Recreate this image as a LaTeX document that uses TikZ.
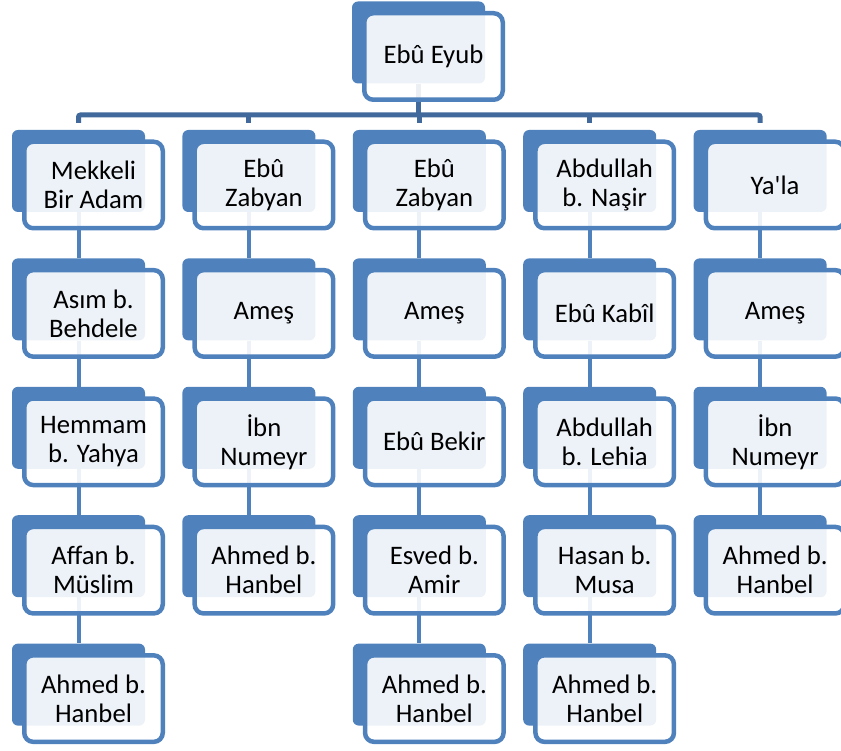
\documentclass[tikz,border=0pt]{standalone}
\usepackage{fontspec}
\setmainfont{Carlito}
\usetikzlibrary{positioning}
\pgfdeclarelayer{background}
\pgfsetlayers{background,main}
\definecolor{ofisMavi}{HTML}{4F81BD}
\definecolor{koyuMavi}{HTML}{41699B}
\tikzset{arka/.style={fill=ofisMavi,rounded corners=6pt,minimum width=133pt,minimum height=82pt,inner sep=0pt},
         on/.style={draw=ofisMavi,line width=4.5pt,fill=white,fill opacity=0.9,text opacity=1,rounded corners=9pt,
                    minimum width=138.5pt,minimum height=86.5pt,inner sep=2pt,align=center,
                    font=\fontsize{26.7pt}{29pt}\selectfont},
         hat/.style={ofisMavi,line width=4pt},
         kol/.style={koyuMavi,line width=5pt,rounded corners=2pt}
}
% back box + front box with the name
\newcommand{\kisi}[3]{%
  \node[arka,#2] (#1) {};
  \node[on] (#1on) at ([shift={(15pt,-14pt)}]#1.center) {#3};}

\begin{document}
\begin{tikzpicture}[x=1pt,y=-1pt]
\useasboundingbox (0,0) rectangle (841,751);

\kisi{eyub}{at={(418.5,42.5)}}{Ebû Eyub}
\coordinate[below=13pt of eyubon.south] (bar);

% first row
\kisi{a1}{at={(78.5,171)}}{Mekkeli\\Bir Adam}
\kisi{b1}{right=37pt of a1}{Ebû\\Zabyan}
\kisi{c1}{right=37pt of b1}{Ebû\\Zabyan}
\kisi{d1}{right=37pt of c1}{Abdullah\\b. Naşir}
\kisi{e1}{right=37pt of d1}{Ya\textquotesingle la}

% column a
\kisi{a2}{below=46pt of a1}{Asım b.\\Behdele}
\kisi{a3}{below=46pt of a2}{Hemmam\\b. Yahya}
\kisi{a4}{below=46pt of a3}{Affan b.\\Müslim}
\kisi{a5}{below=46pt of a4}{Ahmed b.\\Hanbel}

% column b
\kisi{b2}{below=46pt of b1}{Ameş}
\kisi{b3}{below=46pt of b2}{İbn\\Numeyr}
\kisi{b4}{below=46pt of b3}{Ahmed b.\\Hanbel}

% column c
\kisi{c2}{below=46pt of c1}{Ameş}
\kisi{c3}{below=46pt of c2}{Ebû Bekir}
\kisi{c4}{below=46pt of c3}{Esved b.\\Amir}
\kisi{c5}{below=46pt of c4}{Ahmed b.\\Hanbel}

% column d
\kisi{d2}{below=46pt of d1}{Ebû Kabîl}
\kisi{d3}{below=46pt of d2}{Abdullah\\b. Lehia}
\kisi{d4}{below=46pt of d3}{Hasan b.\\Musa}
\kisi{d5}{below=46pt of d4}{Ahmed b.\\Hanbel}

% column e
\kisi{e2}{below=46pt of e1}{Ameş}
\kisi{e3}{below=46pt of e2}{İbn\\Numeyr}
\kisi{e4}{below=46pt of e3}{Ahmed b.\\Hanbel}

\begin{pgfonlayer}{background}
\draw[kol] (eyub) -- (eyub|-bar);
\draw[kol] ([yshift=7pt]a1.north) |- (bar) -| ([yshift=7pt]e1.north);
\draw[kol] (b1|-bar) -- ([yshift=7pt]b1.north);
\draw[kol] (c1|-bar) -- ([yshift=7pt]c1.north);
\draw[kol] (d1|-bar) -- ([yshift=7pt]d1.north);
\draw[hat] (a1) -- (a2) -- (a3) -- (a4) -- (a5);
\draw[hat] (b1) -- (b2) -- (b3) -- (b4);
\draw[hat] (c1) -- (c2) -- (c3) -- (c4) -- (c5);
\draw[hat] (d1) -- (d2) -- (d3) -- (d4) -- (d5);
\draw[hat] (e1) -- (e2) -- (e3) -- (e4);
\end{pgfonlayer}

\end{tikzpicture}
\end{document}
